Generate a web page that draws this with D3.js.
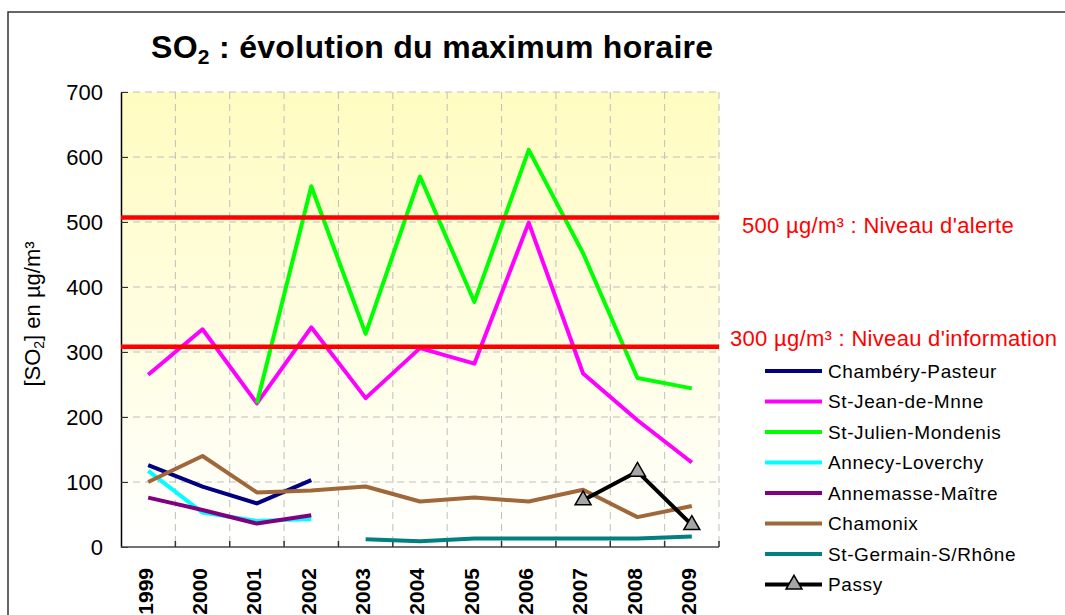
<!DOCTYPE html>
<html>
<head>
<meta charset="utf-8">
<script src="https://cdn.jsdelivr.net/npm/d3@7"></script>
<style>
  body { margin: 0; background: #fff; }
  svg text { font-family: "Liberation Sans", Arial, sans-serif; }
</style>
</head>
<body>
<svg id="chart" width="1065" height="615"></svg>
<script>
// Years on the x axis
const years = ['1999', '2000', '2001', '2002', '2003', '2004', '2005', '2006', '2007', '2008', '2009'];
const yTicks = [0, 100, 200, 300, 400, 500, 600, 700];

// Hourly maximum per station (null = no measure)
const chambery   = [126, 93, 67, 103, null, null, null, null, null, null, null];
const stJean     = [265, 335, 221, 338, 229, 306, 282, 499, 267, 195, 130];
const stJulien   = [null, null, 221, 555, 328, 570, 377, 611, 452, 260, 244];
const annecy     = [117, 53, 40, 43, null, null, null, null, null, null, null];
const annemasse  = [76, 57, 36, 49, null, null, null, null, null, null, null];
const chamonix   = [100, 140, 84, 87, 93, 70, 76, 70, 88, 46, 63];
const stGermain  = [null, null, null, null, 12, 9, 13, 13, 13, 13, 16];
const passy      = [null, null, null, null, null, null, null, null, 72, 116, 34];

const stations = [
  { name: 'Chambéry-Pasteur', values: chambery, colour: '#000080' },
  { name: 'St-Jean-de-Mnne', values: stJean, colour: '#FF00FF' },
  { name: 'St-Julien-Mondenis', values: stJulien, colour: '#00FF00' },
  { name: 'Annecy-Loverchy', values: annecy, colour: '#00FFFF' },
  { name: 'Annemasse-Maître', values: annemasse, colour: '#800080' },
  { name: 'Chamonix', values: chamonix, colour: '#A0683A' },
  { name: 'St-Germain-S/Rhône', values: stGermain, colour: '#008080' },
  { name: 'Passy', values: passy, colour: '#000000', marker: true }
];

// Threshold lines
const thresholds = [
  { value: 507, label: '500 µg/m³ : Niveau d\'alerte', x: 742, y: 233 },
  { value: 308, label: '300 µg/m³ : Niveau d\'information', x: 730, y: 346 }
];

const svg = d3.select('#chart');
const margin = { top: 92, right: 346, bottom: 68, left: 121 };
const width = 1065 - margin.left - margin.right,
  height = 615 - margin.top - margin.bottom;

// outer frame
svg.append('rect')
  .attr('x', 8).attr('y', 12)
  .attr('width', 1080).attr('height', 640)
  .attr('fill', 'none')
  .attr('stroke', '#333').attr('stroke-width', 1.5);

const defs = svg.append('defs');
const grad = defs.append('linearGradient')
  .attr('id', 'bg').attr('x1', 0).attr('y1', 0).attr('x2', 0).attr('y2', 1);
grad.append('stop').attr('offset', '0%').attr('stop-color', '#FFFCC0');
grad.append('stop').attr('offset', '100%').attr('stop-color', '#FFFFFF');

const graph = svg.append('g').attr('transform', `translate(${margin.left}, ${margin.top})`);

const x = d3.scaleBand().domain(years).range([0, width]).padding(0);
const y = d3.scaleLinear().domain([0, 700]).range([height, 0]);
const cx = (i) => x(years[i]) + x.bandwidth() / 2;

graph.append('rect')
  .attr('width', width).attr('height', height)
  .attr('fill', 'url(#bg)');

// grid
graph.append('g').selectAll('line')
  .data(yTicks.slice(1))
  .enter().append('line')
  .attr('x1', 0).attr('x2', width)
  .attr('y1', d => y(d)).attr('y2', d => y(d))
  .attr('stroke', '#BFBFBF').attr('stroke-width', 1)
  .attr('stroke-dasharray', '7,5');

graph.append('g').selectAll('line')
  .data(years.slice(1).concat(['end']))
  .enter().append('line')
  .attr('x1', d => d === 'end' ? width : x(d))
  .attr('x2', d => d === 'end' ? width : x(d))
  .attr('y1', 0).attr('y2', height)
  .attr('stroke', '#BFBFBF').attr('stroke-width', 1)
  .attr('stroke-dasharray', '7,5');

// y axis
const yAxis = graph.append('g')
  .call(d3.axisLeft(y).tickValues(yTicks).tickSizeInner(-7).tickSizeOuter(0).tickPadding(18));
yAxis.select('.domain').attr('stroke', '#000').attr('stroke-width', 1.5);
yAxis.selectAll('.tick line').attr('stroke', '#333');
yAxis.selectAll('text')
  .attr('font-size', 22)
  .attr('fill', '#000')
  .style('font-family', '"Liberation Sans", Arial, sans-serif');

// x axis: ticks at band boundaries, labels rotated
const xAxis = graph.append('g').attr('transform', `translate(0, ${height})`);
xAxis.append('line')
  .attr('x1', 0).attr('x2', width)
  .attr('stroke', '#444').attr('stroke-width', 1.5);
xAxis.selectAll('.bound')
  .data(years.slice(1).concat(['end']))
  .enter().append('line')
  .attr('class', 'bound')
  .attr('x1', d => d === 'end' ? width : x(d))
  .attr('x2', d => d === 'end' ? width : x(d))
  .attr('y1', 0).attr('y2', -6)
  .attr('stroke', '#333').attr('stroke-width', 1.5);
xAxis.selectAll('.year')
  .data(years)
  .enter().append('text')
  .attr('class', 'year')
  .attr('transform', (d, i) => `translate(${cx(i) - 3}, 0) rotate(-90)`)
  .attr('x', -21)
  .attr('dy', '0.35em')
  .attr('text-anchor', 'end')
  .attr('font-size', 21)
  .attr('font-weight', 'bold')
  .text(d => d);

// station lines
const line = d3.line()
  .defined(d => d != null)
  .x((d, i) => cx(i))
  .y(d => y(d));

graph.selectAll('.station')
  .data(stations)
  .enter().append('path')
  .attr('class', 'station')
  .attr('d', d => line(d.values))
  .attr('fill', 'none')
  .attr('stroke', d => d.colour)
  .attr('stroke-width', 4)
  .attr('stroke-linejoin', 'round');

// Passy markers
const triangle = d3.symbol().type(d3.symbolTriangle).size(110);
stations.filter(s => s.marker).forEach(s => {
  graph.selectAll('.marker')
    .data(s.values.map((v, i) => ({ v, i })).filter(d => d.v != null))
    .enter().append('path')
    .attr('class', 'marker')
    .attr('d', triangle)
    .attr('transform', d => `translate(${cx(d.i)}, ${y(d.v)})`)
    .attr('fill', '#A6A6A6')
    .attr('stroke', '#000')
    .attr('stroke-width', 1.5);
});

// thresholds
graph.selectAll('.threshold')
  .data(thresholds)
  .enter().append('line')
  .attr('class', 'threshold')
  .attr('x1', 0).attr('x2', width)
  .attr('y1', d => y(d.value)).attr('y2', d => y(d.value))
  .attr('stroke', '#FF0000').attr('stroke-width', 4.5);

svg.selectAll('.thLabel')
  .data(thresholds)
  .enter().append('text')
  .attr('class', 'thLabel')
  .attr('x', d => d.x).attr('y', d => d.y)
  .attr('font-size', 22)
  .attr('letter-spacing', 0.3)
  .attr('fill', '#FF0000')
  .text(d => d.label);

// title
const title = svg.append('text')
  .attr('x', 151).attr('y', 58)
  .attr('font-size', 32)
  .attr('letter-spacing', 0.3)
  .attr('font-weight', 'bold');
title.append('tspan').text('SO');
title.append('tspan').attr('font-size', 21).attr('dy', 6).text('2');
title.append('tspan').attr('dy', -6).text(' : évolution du maximum horaire');

// y axis title
const yTitle = svg.append('text')
  .attr('transform', 'translate(40, 314) rotate(-90)')
  .attr('text-anchor', 'middle')
  .attr('font-size', 22);
yTitle.append('tspan').text('[SO');
yTitle.append('tspan').attr('font-size', 14).attr('dy', 4).text('2');
yTitle.append('tspan').attr('dy', -4).text('] en µg/m³');

// legend
const legend = svg.append('g').attr('transform', 'translate(765, 371)');
const item = legend.selectAll('.item')
  .data(stations)
  .enter().append('g')
  .attr('class', 'item')
  .attr('transform', (d, i) => `translate(0, ${i * 30.5})`);
item.append('line')
  .attr('x1', 0).attr('x2', 57)
  .attr('stroke', d => d.colour).attr('stroke-width', 4);
item.filter(d => d.marker).append('path')
  .attr('d', triangle)
  .attr('transform', 'translate(29, 0)')
  .attr('fill', '#A6A6A6')
  .attr('stroke', '#000')
  .attr('stroke-width', 1.5);
item.append('text')
  .attr('x', 63).attr('dy', '0.35em')
  .attr('font-size', 19)
  .attr('letter-spacing', 0.6)
  .text(d => d.name);
</script>
</body>
</html>
